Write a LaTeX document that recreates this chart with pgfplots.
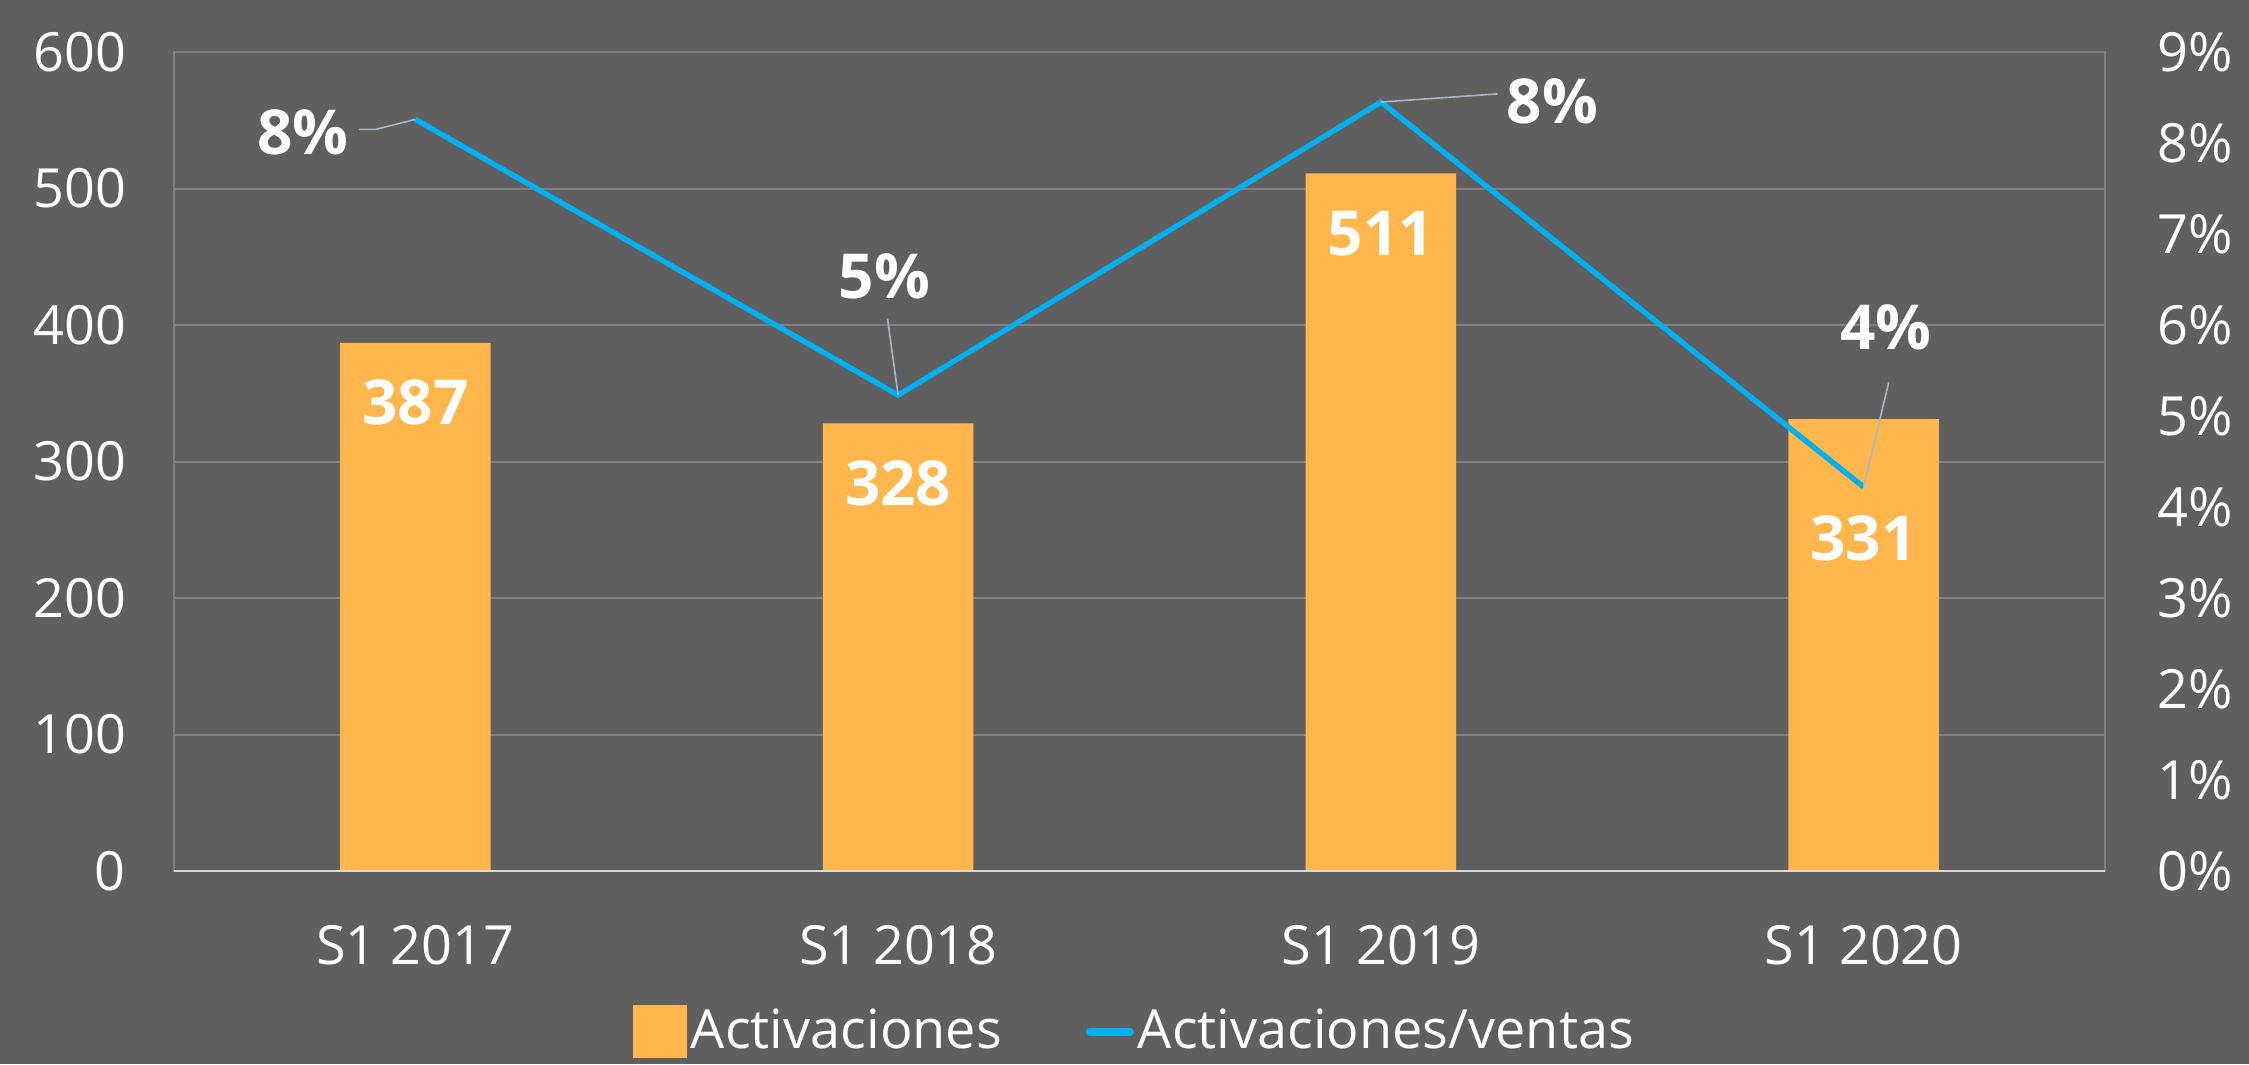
\documentclass[border=0pt]{standalone}
\usepackage{fontspec}
\setmainfont{Open Sans}
\usepackage{pgfplots}
\pgfplotsset{compat=1.18}

\definecolor{bg}{HTML}{5F5F5F}
\definecolor{gridc}{HTML}{808080}
\definecolor{axisc}{HTML}{D9D9D9}
\definecolor{barc}{HTML}{FFB74D}
\definecolor{linec}{HTML}{00B0F0}
\definecolor{leader}{HTML}{A9B6C8}

\begin{document}
\begin{tikzpicture}
\fill[bg] (0,0) rectangle (562.25pt,266pt);

% bars, left axis
\begin{axis}[
  at={(43.5pt,48.25pt)}, anchor=south west,
  scale only axis, width=482.75pt, height=204.75pt,
  xmin=-0.5, xmax=3.5, ymin=0, ymax=600,
  ytick={0,100,...,600},
  xtick={0,1,2,3},
  xticklabels={S1 2017,S1 2018,S1 2019,S1 2020},
  ymajorgrids,
  grid style={gridc, line width=0.5pt},
  axis line style={gridc, line width=0.5pt},
  major tick length=0pt,
  ticklabel style={text=white, font=\fontsize{13.5}{15}\selectfont},
  /pgf/number format/assume math mode=true,
  yticklabel style={xshift=-8.5pt},
  xticklabel style={yshift=-10pt},
  ybar, bar width=37.6pt,
  clip=false,
]
\addplot[fill=barc, draw=none] coordinates {(0,387) (1,328) (2,511) (3,331)};
\draw[axisc, line width=0.6pt] (rel axis cs:0,0) -- (rel axis cs:1,0);
\begin{scope}[every node/.style={text=white, font=\bfseries\fontsize{15.5}{17}\selectfont}]
\node at (axis cs:0,343) {387};
\node at (axis cs:1,284) {328};
\node at (axis cs:2,467) {511};
\node at (axis cs:3,244) {331};
\end{scope}
\end{axis}

% ratio line, right axis
\begin{axis}[
  at={(43.5pt,48.25pt)}, anchor=south west,
  scale only axis, width=482.75pt, height=204.75pt,
  xmin=-0.5, xmax=3.5, ymin=0, ymax=9,
  axis y line*=right, axis x line=none,
  axis line style={draw=none},
  ytick={0,...,9},
  yticklabel={\pgfmathprintnumber{\tick}\%},
  major tick length=0pt,
  ticklabel style={text=white, font=\fontsize{13.5}{15}\selectfont},
  /pgf/number format/assume math mode=true,
  yticklabel style={xshift=9.5pt},
  clip=false,
  legend style={at={(0.498,-0.196)}, anchor=center, draw=none, fill=none,
    text=white, font=\fontsize{13.5}{15}\selectfont,
    legend columns=2, inner xsep=0pt, inner ysep=0pt,
    nodes={inner xsep=1pt, inner ysep=0pt},
    /tikz/every even column/.append style={column sep=20pt}},
]
\addlegendimage{legend image code/.code={\fill[barc] (0pt,-6.5pt) rectangle (13pt,6.5pt);}}
\addlegendentry{Activaciones}
\addplot[linec, line width=1.35pt, mark=none,
  legend image code/.code={\draw[linec, line width=2pt, line cap=round] (0pt,0pt) -- (10pt,0pt);}]
  coordinates {(0,8.26) (1,5.23) (2,8.45) (3,4.22)};
\addlegendentry{Activaciones/ventas}
\begin{scope}[every node/.style={text=white, font=\bfseries\fontsize{15.5}{17}\selectfont}]
\node at (axis cs:-0.233,8.12) {8\%};
\node at (axis cs:0.972,6.53) {5\%};
\node at (axis cs:2.355,8.46) {8\%};
\node at (axis cs:3.046,5.97) {4\%};
\end{scope}
\draw[leader, line width=0.4pt] (axis cs:-0.117,8.15) -- (axis cs:-0.082,8.15) -- (axis cs:0.0,8.26);
\draw[leader, line width=0.4pt] (axis cs:0.978,6.07) -- (axis cs:1.0,5.23);
\draw[leader, line width=0.4pt] (axis cs:2.0,8.45) -- (axis cs:2.242,8.54);
\draw[leader, line width=0.4pt] (axis cs:3.052,5.37) -- (axis cs:3.0,4.22);
\end{axis}

\pgfresetboundingbox
\useasboundingbox (0,0) rectangle (562.25pt,266pt);
\end{tikzpicture}
\end{document}
